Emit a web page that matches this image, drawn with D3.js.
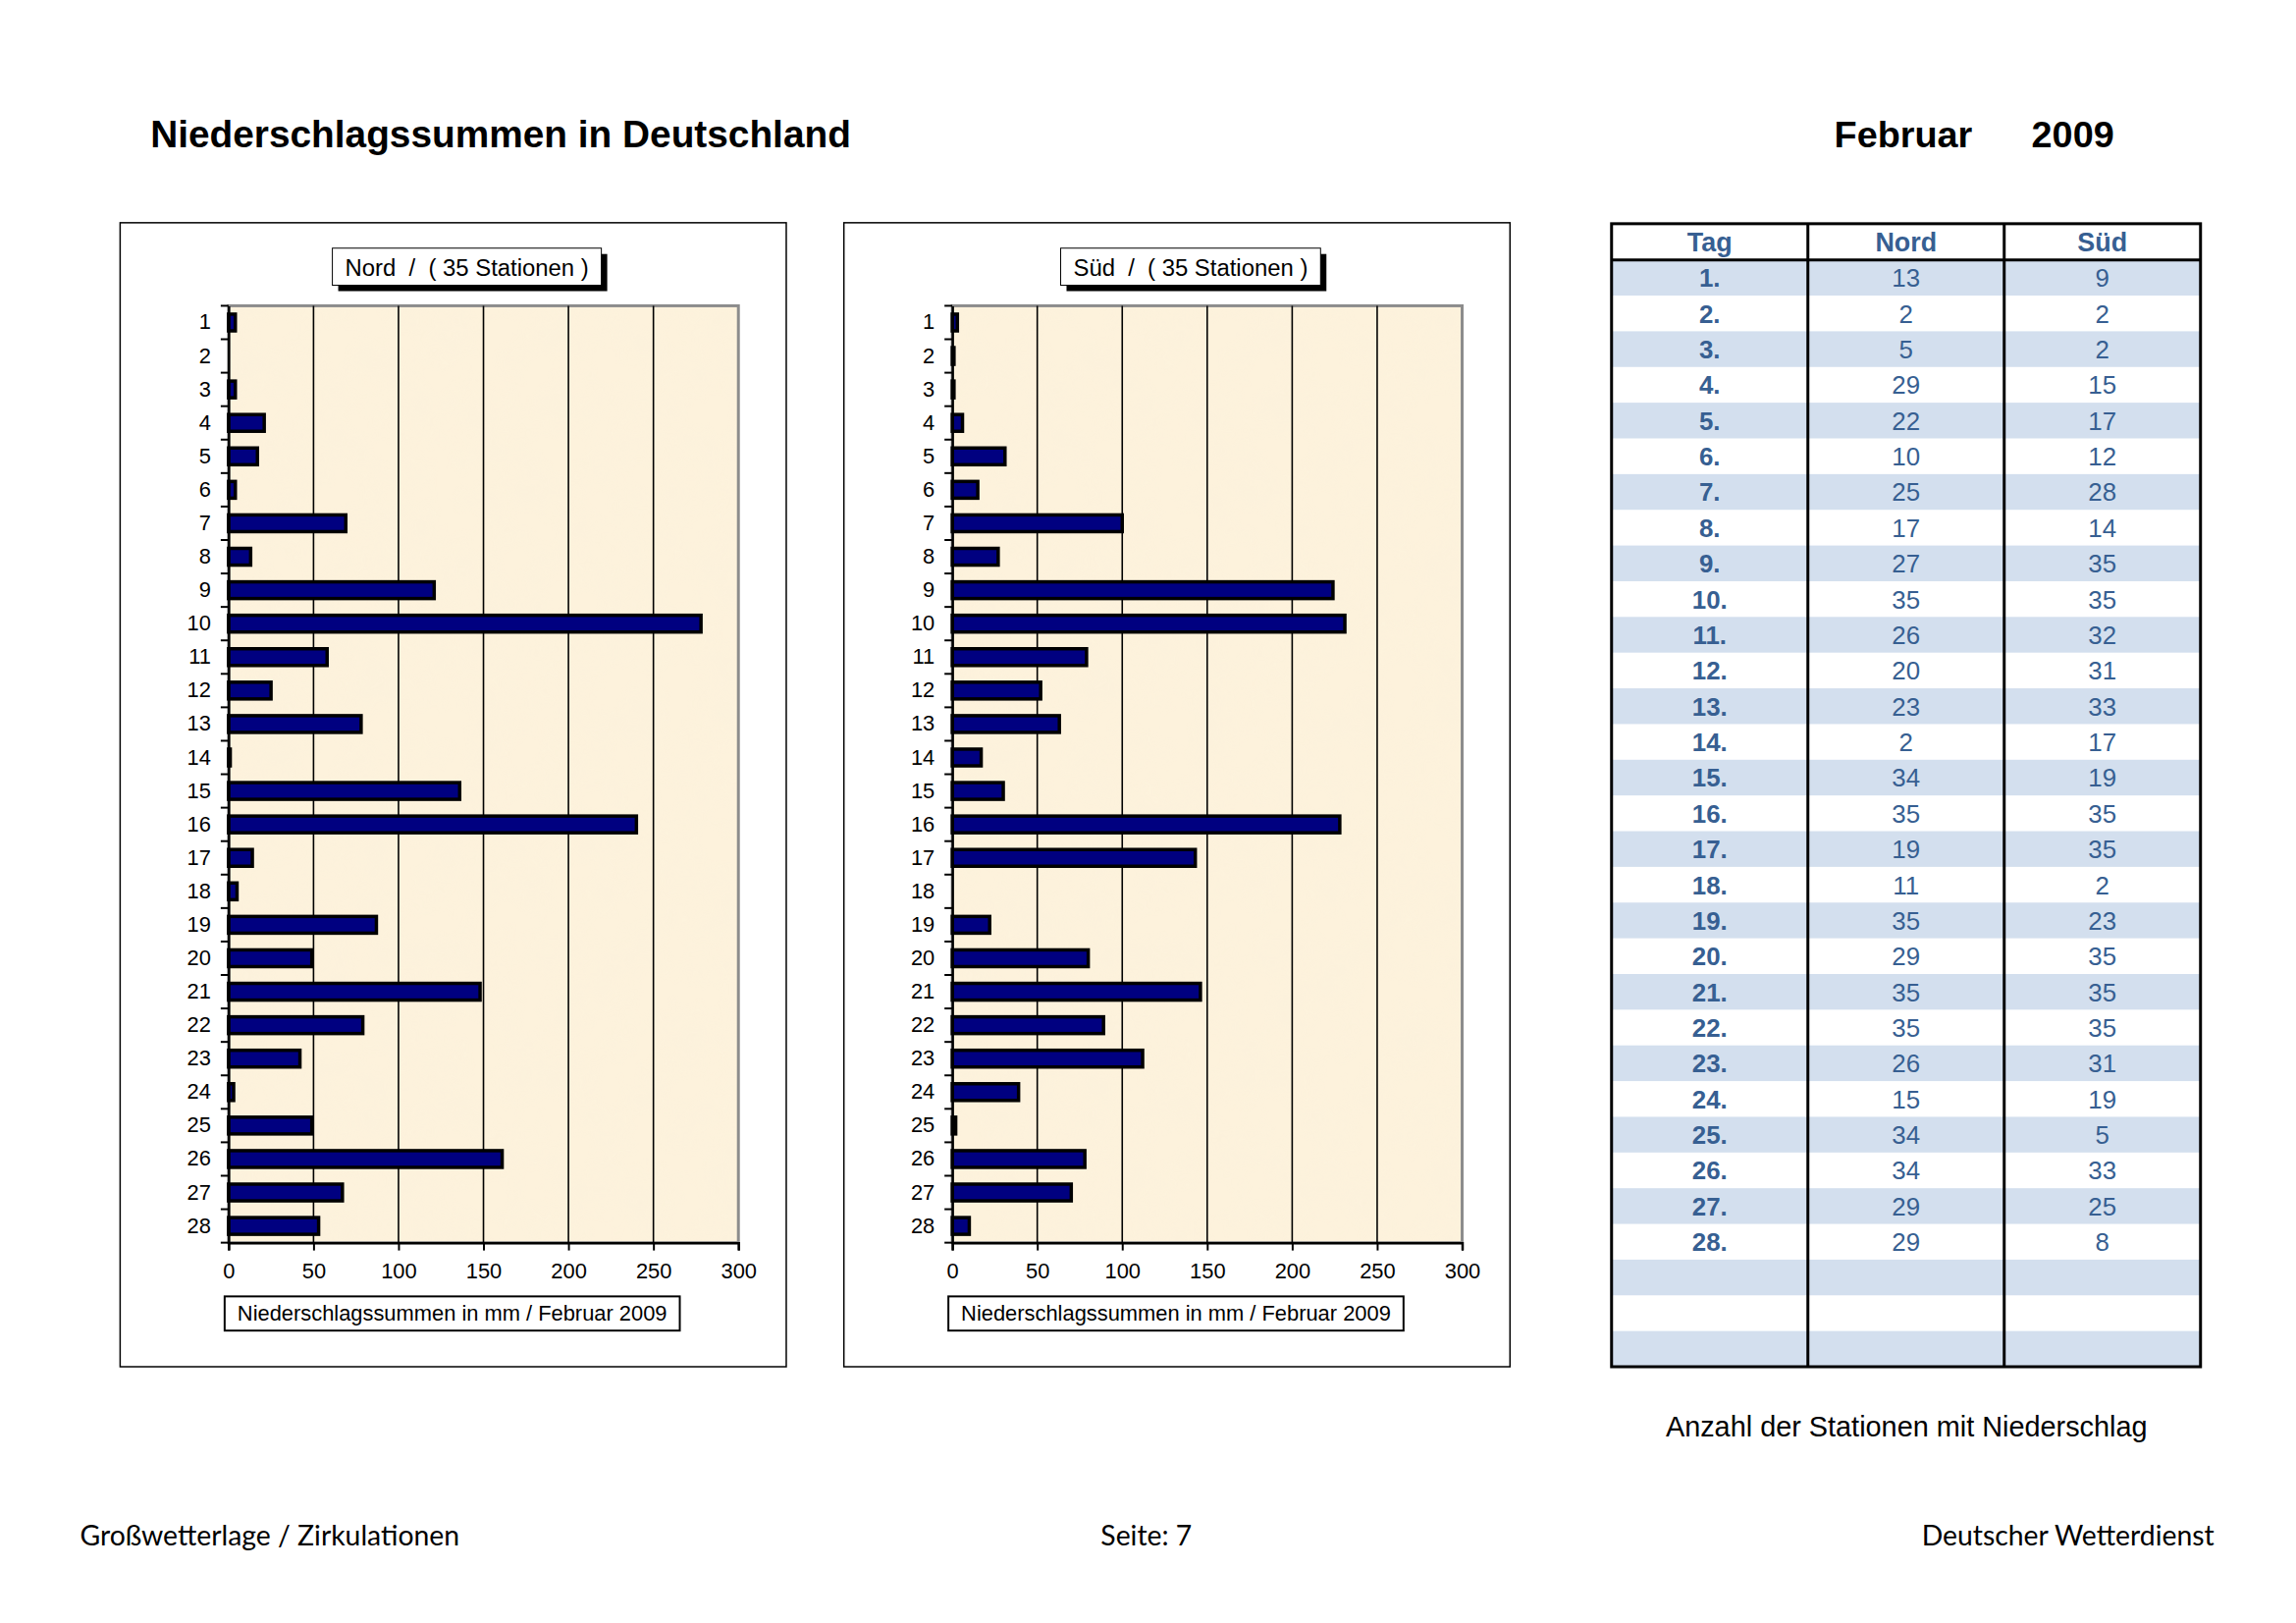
<!DOCTYPE html>
<html>
<head>
<meta charset="utf-8">
<script src="https://cdn.jsdelivr.net/npm/d3@7"></script>
<style>
  body { margin: 0; background: #fff; }
  svg text { font-family: "Liberation Sans", Arial, sans-serif; }
</style>
</head>
<body>
<svg id="page" width="2339" height="1653"></svg>
<script>
// ---------- data ----------
const days = ["1","2","3","4","5","6","7","8","9","10","11","12","13","14",
              "15","16","17","18","19","20","21","22","23","24","25","26","27","28"];
const nordSum = [4, 0, 4, 21, 17, 4, 69, 13, 121, 278, 58, 25, 78, 1,
                 136, 240, 14, 5, 87, 49, 148, 79, 42, 3, 49, 161, 67, 53];
const suedSum = [3, 1, 1, 6, 31, 15, 100, 27, 224, 231, 79, 52, 63, 17,
                 30, 228, 143, 0, 22, 80, 146, 89, 112, 39, 2, 78, 70, 10];
const xTicks = [0, 50, 100, 150, 200, 250, 300];
const xGrid = [50, 100, 150, 200, 250];

const tableHeader = ["Tag", "Nord", "Süd"];
const tableDays = ["1.","2.","3.","4.","5.","6.","7.","8.","9.","10.","11.","12.","13.","14.",
                   "15.","16.","17.","18.","19.","20.","21.","22.","23.","24.","25.","26.","27.","28.","","",""];
const nordStations = [13, 2, 5, 29, 22, 10, 25, 17, 27, 35, 26, 20, 23, 2,
                      34, 35, 19, 11, 35, 29, 35, 35, 26, 15, 34, 34, 29, 29];
const suedStations = [9, 2, 2, 15, 17, 12, 28, 14, 35, 35, 32, 31, 33, 17,
                      19, 35, 35, 2, 23, 35, 35, 35, 31, 19, 5, 33, 25, 8];

const pageTitle = "Niederschlagssummen in Deutschland";
const monthLabel = "Februar";
const yearLabel = "2009";
const axisTitle = "Niederschlagssummen in mm / Februar 2009";
const chartTitles = ["Nord  /  ( 35 Stationen )", "Süd  /  ( 35 Stationen )"];
const tableNote = "Anzahl der Stationen mit Niederschlag";
const footer = ["Großwetterlage / Zirkulationen", "Seite: 7", "Deutscher Wetterdienst"];

// ---------- drawing ----------
const root = d3.select("#page");
root.append("rect").attr("width", 2339).attr("height", 1653).attr("fill", "#fff");

// parchment texture filter
const defs = root.append("defs");
const flt = defs.append("filter").attr("id", "parch").attr("x", 0).attr("y", 0).attr("width", 1).attr("height", 1);
flt.append("feTurbulence").attr("type", "fractalNoise").attr("baseFrequency", 0.025)
  .attr("numOctaves", 3).attr("seed", 7).attr("result", "noise");
flt.append("feColorMatrix").attr("in", "noise").attr("type", "matrix")
  .attr("values", "0 0 0 0 0.93  0 0 0 0 0.86  0 0 0 0 0.72  0 0 0 0.55 -0.18");

const svg = root.append("g").attr("transform", "scale(0.995)");

// header
svg.append("text").attr("x", 154).attr("y", 151)
  .attr("font-size", 39).attr("font-weight", "bold").text(pageTitle);
svg.append("text").attr("x", 1878).attr("y", 151)
  .attr("font-size", 38).attr("font-weight", "bold").text(monthLabel);
svg.append("text").attr("x", 2080).attr("y", 151)
  .attr("font-size", 38).attr("font-weight", "bold").text(yearLabel);

function drawChart(dx, title, values) {
  const g = svg.append("g").attr("transform", `translate(${dx},0)`);
  // frame
  g.append("rect").attr("x", 123).attr("y", 228).attr("width", 682).attr("height", 1171)
    .attr("fill", "#fff").attr("stroke", "#000").attr("stroke-width", 1.5);

  const left = 234, right = 756, top = 313, bottom = 1272;
  const x = d3.scaleLinear().domain([0, 300]).range([left, right]);
  const y = d3.scaleBand().domain(days).range([top, bottom])
    .paddingInner(0.5).paddingOuter(0.25);

  // plot background
  g.append("rect").attr("x", left).attr("y", top)
    .attr("width", right - left).attr("height", bottom - top)
    .attr("fill", "#fdf2dc");
  g.append("rect").attr("x", left).attr("y", top)
    .attr("width", right - left).attr("height", bottom - top)
    .attr("filter", "url(#parch)").attr("opacity", 0.6);
  g.append("rect").attr("x", left).attr("y", top)
    .attr("width", right - left).attr("height", bottom - top)
    .attr("fill", "none").attr("stroke", "#8c8c8c").attr("stroke-width", 3);

  // grid
  g.append("g").selectAll("line").data(xGrid).join("line")
    .attr("x1", d => x(d)).attr("x2", d => x(d))
    .attr("y1", top).attr("y2", bottom)
    .attr("stroke", "#000").attr("stroke-width", 1.6);

  // bars
  g.append("g").selectAll("rect").data(days.map((d, i) => ({d, v: values[i]})).filter(o => o.v > 0))
    .join("rect")
    .attr("x", x(0)).attr("y", o => y(o.d))
    .attr("width", o => x(o.v) - x(0)).attr("height", y.bandwidth())
    .attr("fill", "#000080").attr("stroke", "#000").attr("stroke-width", 3.5);

  // y axis
  const ya = g.append("g").attr("transform", `translate(${left},0)`)
    .call(d3.axisLeft(y).tickSize(0).tickPadding(18));
  ya.select(".domain").attr("stroke", "#000").attr("stroke-width", 2.5);
  ya.selectAll("text").attr("font-size", 22).attr("font-family", "Liberation Sans, Arial, sans-serif").attr("fill", "#000");
  const step = y.step();
  g.append("g").selectAll("line").data(d3.range(days.length + 1)).join("line")
    .attr("x1", left - 8).attr("x2", left)
    .attr("y1", i => top + i * step).attr("y2", i => top + i * step)
    .attr("stroke", "#000").attr("stroke-width", 2);

  // x axis
  const xa = g.append("g").attr("transform", `translate(0,${bottom})`)
    .call(d3.axisBottom(x).tickValues(xTicks).tickSize(8).tickPadding(13));
  xa.select(".domain").attr("stroke", "#000").attr("stroke-width", 2.5);
  xa.selectAll("line").attr("stroke", "#000").attr("stroke-width", 2);
  xa.selectAll("text").attr("font-size", 22).attr("font-family", "Liberation Sans, Arial, sans-serif").attr("fill", "#000");

  // chart title box with shadow
  const tcx = 478;
  const tb = g.append("g");
  const tt = tb.append("text").attr("x", tcx).attr("y", 282).attr("text-anchor", "middle")
    .attr("font-size", 24).style("white-space", "pre").text(title);
  const tw = tt.node().getComputedTextLength() + 26;
  tb.insert("rect", "text").attr("x", tcx - tw / 2 + 6).attr("y", 260)
    .attr("width", tw).attr("height", 38).attr("fill", "#000");
  tb.insert("rect", "text").attr("x", tcx - tw / 2).attr("y", 254)
    .attr("width", tw).attr("height", 38).attr("fill", "#fff").attr("stroke", "#000").attr("stroke-width", 1);

  // axis title box
  const acx = 463;
  g.append("rect").attr("x", acx - 233).attr("y", 1327).attr("width", 466).attr("height", 35)
    .attr("fill", "#fff").attr("stroke", "#000").attr("stroke-width", 2);
  g.append("text").attr("x", acx).attr("y", 1352).attr("text-anchor", "middle")
    .attr("font-size", 22).text(axisTitle);
}

drawChart(0, chartTitles[0], nordSum);
drawChart(741, chartTitles[1], suedSum);

// ---------- table ----------
const tX = 1650, tW = 603, colW = tW / 3, tTop = 229, headH = 37, tBottom = 1399;
const rowH = (tBottom - tTop - headH) / tableDays.length;
const blue = "#375f92";
const tg = svg.append("g");
tg.append("rect").attr("x", tX).attr("y", tTop).attr("width", tW).attr("height", tBottom - tTop).attr("fill", "#fff");
tg.selectAll("rect.band").data(tableDays.map((d, i) => i).filter(i => i % 2 === 0)).join("rect")
  .attr("class", "band").attr("x", tX).attr("y", i => tTop + headH + i * rowH)
  .attr("width", tW).attr("height", rowH).attr("fill", "#d3dfee");
tg.selectAll("text.head").data(tableHeader).join("text").attr("class", "head")
  .attr("x", (d, i) => tX + colW * (i + 0.5)).attr("y", tTop + headH / 2 + 10)
  .attr("text-anchor", "middle").attr("font-size", 27).attr("font-weight", "bold")
  .attr("fill", blue).text(d => d);
tableDays.forEach((d, i) => {
  const yy = tTop + headH + i * rowH + rowH / 2 + 9.5;
  tg.append("text").attr("x", tX + colW * 0.5).attr("y", yy).attr("text-anchor", "middle")
    .attr("font-size", 26).attr("font-weight", "bold").attr("fill", blue).text(d);
  if (i < nordStations.length) {
    tg.append("text").attr("x", tX + colW * 1.5).attr("y", yy).attr("text-anchor", "middle")
      .attr("font-size", 26).attr("fill", blue).text(nordStations[i]);
    tg.append("text").attr("x", tX + colW * 2.5).attr("y", yy).attr("text-anchor", "middle")
      .attr("font-size", 26).attr("fill", blue).text(suedStations[i]);
  }
});
// borders
tg.append("line").attr("x1", tX).attr("x2", tX + tW).attr("y1", tTop + headH).attr("y2", tTop + headH)
  .attr("stroke", "#000").attr("stroke-width", 3);
[1, 2].forEach(c => tg.append("line").attr("x1", tX + colW * c).attr("x2", tX + colW * c)
  .attr("y1", tTop).attr("y2", tBottom).attr("stroke", "#000").attr("stroke-width", 3));
tg.append("rect").attr("x", tX).attr("y", tTop).attr("width", tW).attr("height", tBottom - tTop)
  .attr("fill", "none").attr("stroke", "#000").attr("stroke-width", 3);

svg.append("text").attr("x", 1952).attr("y", 1470).attr("text-anchor", "middle")
  .attr("font-size", 29).text(tableNote);

// ---------- footer ----------
const ff = "Lato, 'Open Sans', sans-serif";
svg.append("text").attr("x", 82).attr("y", 1582).attr("font-size", 28.5).style("font-family", ff).text(footer[0]);
svg.append("text").attr("x", 1127).attr("y", 1582).attr("font-size", 28.5).style("font-family", ff).text(footer[1]);
svg.append("text").attr("x", 2267).attr("y", 1582).attr("text-anchor", "end").attr("font-size", 28.5).style("font-family", ff).text(footer[2]);
</script>
</body>
</html>
